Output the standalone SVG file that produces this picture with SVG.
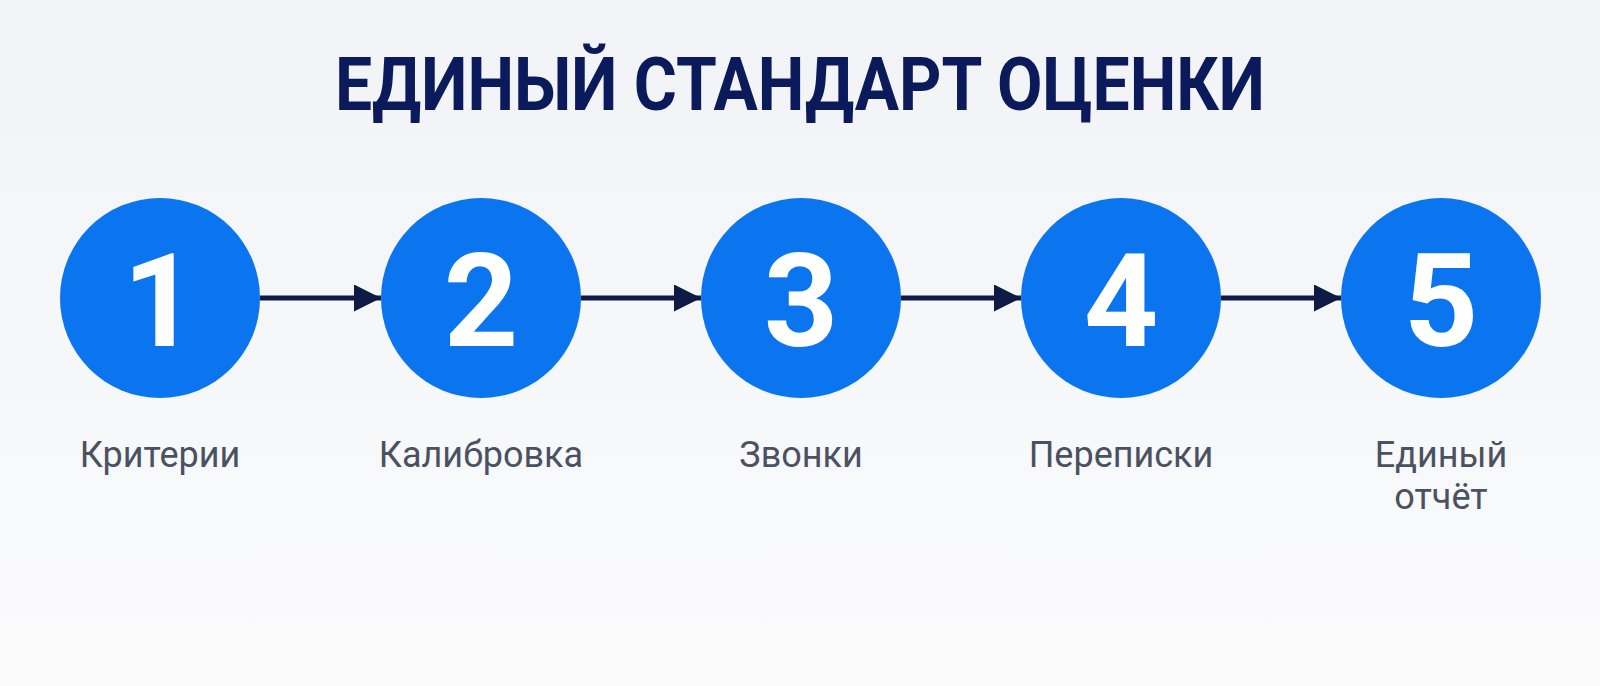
<svg xmlns="http://www.w3.org/2000/svg" width="1600" height="686" viewBox="0 0 1600 686">
  <defs>
    <linearGradient id="bg" x1="0" y1="0" x2="0" y2="1">
      <stop offset="0" stop-color="#f1f3f6"/>
      <stop offset="1" stop-color="#fbfbfc"/>
    </linearGradient>
    <marker id="arrow" viewBox="0 0 10 10" refX="10" refY="5" markerWidth="5.4" markerHeight="5.4" markerUnits="strokeWidth" orient="auto">
      <path d="M0,0 L10,5 L0,10 Z" fill="#0d1a45"/>
    </marker>
    <style>
      .step { fill: #0b75f0; }
      .num { font-family: Roboto, Inter, "Liberation Sans", sans-serif; font-weight: 700; font-size: 130px; fill: #ffffff; text-anchor: middle; }
      .label { font-family: Roboto, "Noto Sans", sans-serif; font-size: 36px; fill: #4a5162; text-anchor: middle; }
      .conn { stroke: #0d1a45; stroke-width: 5; fill: none; marker-end: url(#arrow); }
      .title { font-family: Roboto, "Liberation Sans", sans-serif; font-weight: 700; font-size: 74px; fill: #0b1a5a; text-anchor: middle; }
    </style>
  </defs>
  <rect width="1600" height="686" fill="url(#bg)"/>
  <text class="title" x="800" y="110" textLength="930" lengthAdjust="spacingAndGlyphs">ЕДИНЫЙ СТАНДАРТ ОЦЕНКИ</text>

  <g id="connectors">
    <line class="conn" x1="260" y1="298" x2="381" y2="298"/>
    <line class="conn" x1="581" y1="298" x2="701" y2="298"/>
    <line class="conn" x1="901" y1="298" x2="1021" y2="298"/>
    <line class="conn" x1="1221" y1="298" x2="1341" y2="298"/>
  </g>

  <g id="step1">
    <circle class="step" cx="160" cy="298" r="100"/>
    <text class="num" x="160" y="346">1</text>
    <text class="label" x="160" y="467">Критерии</text>
  </g>
  <g id="step2">
    <circle class="step" cx="481" cy="298" r="100"/>
    <text class="num" x="481" y="346">2</text>
    <text class="label" x="481" y="467">Калибровка</text>
  </g>
  <g id="step3">
    <circle class="step" cx="801" cy="298" r="100"/>
    <text class="num" x="801" y="346">3</text>
    <text class="label" x="801" y="467">Звонки</text>
  </g>
  <g id="step4">
    <circle class="step" cx="1121" cy="298" r="100"/>
    <text class="num" x="1121" y="346">4</text>
    <text class="label" x="1121" y="467">Переписки</text>
  </g>
  <g id="step5">
    <circle class="step" cx="1441" cy="298" r="100"/>
    <text class="num" x="1441" y="346">5</text>
    <text class="label" x="1441" y="467">Единый</text>
    <text class="label" x="1441" y="509">отчёт</text>
  </g>
</svg>
